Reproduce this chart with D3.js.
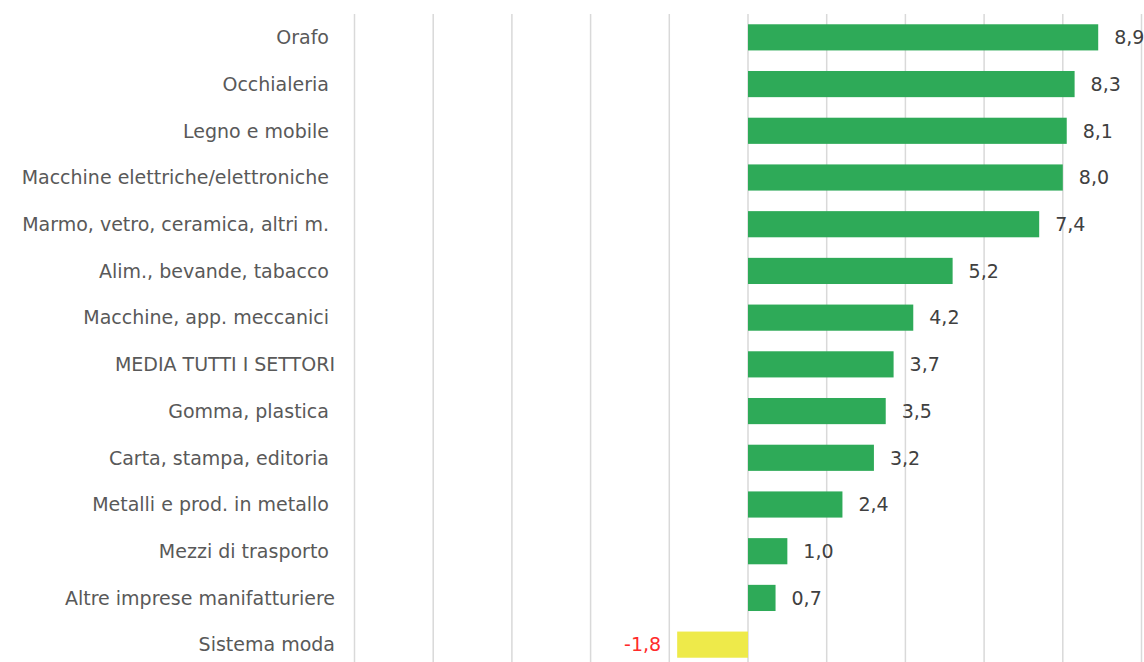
<!DOCTYPE html>
<html><head><meta charset="utf-8">
<script src="https://cdn.jsdelivr.net/npm/d3@7"></script>
<style>body{margin:0;background:#fff}svg{display:block}</style>
</head><body>
<script>
const categories = ["Orafo ", "Occhialeria ", "Legno e mobile ", "Macchine elettriche/elettroniche ", "Marmo, vetro, ceramica, altri m. ", "Alim., bevande, tabacco ", "Macchine, app. meccanici ", "MEDIA TUTTI I SETTORI", "Gomma, plastica ", "Carta, stampa, editoria ", "Metalli e prod. in metallo ", "Mezzi di trasporto ", "Altre imprese manifatturiere", "Sistema moda"];
const values = [8.9, 8.3, 8.1, 8.0, 7.4, 5.2, 4.2, 3.7, 3.5, 3.2, 2.4, 1.0, 0.7, -1.8];
const gridTicks = [-10, -8, -6, -4, -2, 0, 2, 4, 6, 8, 10];

const W = 1144, H = 662;
const svg = d3.select("body").append("svg").attr("width", W).attr("height", H);
const x = d3.scaleLinear().domain([-10, 10]).range([354.5, 1141.5]);
const y = d3.scaleBand().domain(categories).range([14, 668]).paddingInner(0.44).paddingOuter(0.22);
const font = "'DejaVu Sans', sans-serif";

svg.append("g").selectAll("line").data(gridTicks).join("line")
  .attr("x1", d => x(d)).attr("x2", d => x(d)).attr("y1", 14).attr("y2", H)
  .attr("stroke", "#d9d9d9").attr("stroke-width", 1.5);

svg.append("g").selectAll("rect").data(values).join("rect")
  .attr("x", d => x(Math.min(0, d)))
  .attr("width", d => Math.abs(x(d) - x(0)))
  .attr("y", (d, i) => y(categories[i]))
  .attr("height", y.bandwidth())
  .attr("fill", d => d < 0 ? "#eeea4a" : "#2eaa58");

svg.append("g").selectAll("text").data(categories).join("text")
  .attr("x", 335).attr("y", d => y(d) + y.bandwidth() / 2)
  .attr("dy", "0.36em").attr("text-anchor", "end")
  .style("white-space", "pre")
  .attr("font-family", font).attr("font-size", 19).attr("fill", "#595959")
  .text(d => d);

svg.append("g").selectAll("text").data(values).join("text")
  .attr("x", d => d < 0 ? x(d) - 16 : x(d) + 16)
  .attr("y", (d, i) => y(categories[i]) + y.bandwidth() / 2)
  .attr("dy", "0.36em").attr("text-anchor", d => d < 0 ? "end" : "start")
  .attr("font-family", font).attr("font-size", 19)
  .attr("fill", d => d < 0 ? "#ff2b2b" : "#404040")
  .text(d => d3.format(".1f")(d).replace(".", ",").replace("−", "-"));
</script>
</body></html>
